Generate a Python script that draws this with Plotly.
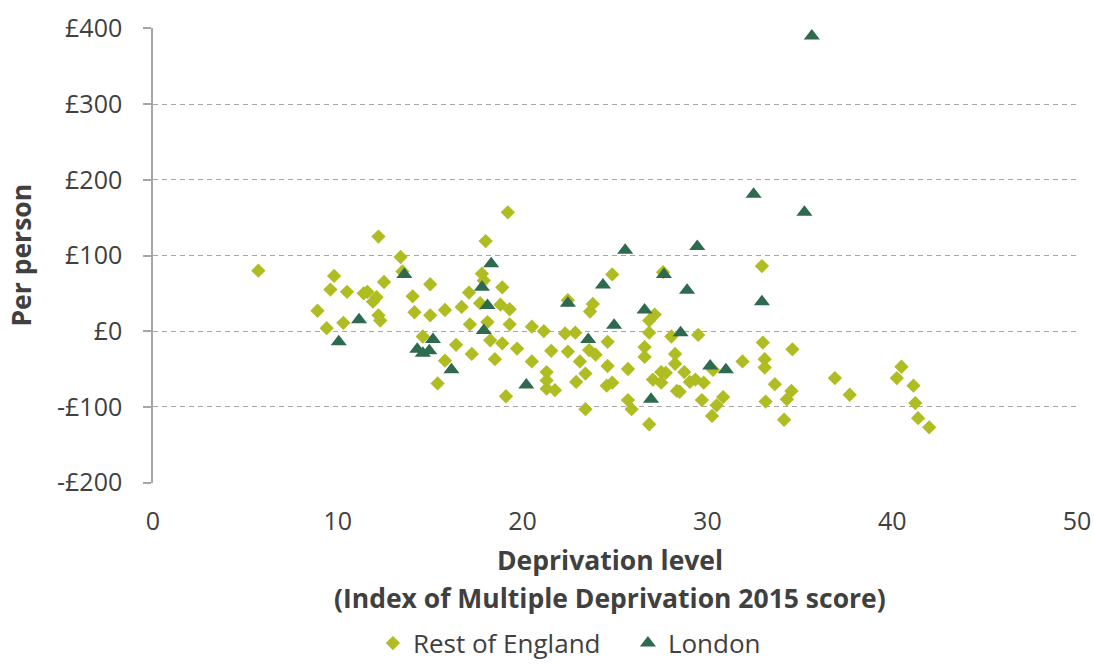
import plotly.graph_objects as go

# Deprivation score (IMD 2015) and change per person, by local authority
england_x = [5.7, 8.9, 9.4, 9.6, 9.8, 10.3, 10.5, 11.4, 11.6, 11.9, 12.1, 12.2, 12.2, 12.3, 12.5,
             13.4, 13.5, 14.05, 14.15, 14.6, 15.0, 15.0, 15.4, 15.8, 15.8, 16.4, 16.7, 17.1, 17.15,
             17.25, 17.7, 17.8, 17.9, 18.0, 18.1, 18.25, 18.5, 18.8, 18.9, 18.9, 19.1, 19.2, 19.3,
             19.3, 19.7, 20.5, 20.5, 21.15, 21.3, 21.3, 21.3, 21.55, 21.75, 22.3, 22.45, 22.45,
             22.85, 22.9, 23.1, 23.4, 23.4, 23.65, 23.8, 23.6, 23.95, 24.6, 24.6, 24.55, 24.85,
             24.85, 25.7, 25.7, 25.9, 26.6, 26.6, 26.85, 26.85, 27.15, 26.85, 27.05, 27.5, 27.75,
             27.5, 27.6, 28.05, 28.25, 28.25, 28.35, 28.5, 28.75, 29.05, 29.35, 29.5, 29.7, 29.8,
             30.25, 30.3, 30.5, 30.85, 31.9, 32.95, 33.0, 33.1, 33.1, 33.15, 33.65, 34.15, 34.3,
             34.55, 34.6, 36.9, 37.7, 40.25, 40.5, 41.15, 41.25, 41.4, 42.0]
england_y = [80, 27, 4, 55, 73, 11, 52, 50, 52, 39, 45, 125, 21, 14, 65,
             98, 79, 46, 25, -7, 62, 21, -69, 28, -39, -18, 32, 51, 9,
             -30, 37, 76, 67, 119, 12, -12, -37, 35, 58, -16, -86, 157, 29,
             9, -23, 6, -40, 0, -54, -65, -76, -26, -78, -3, 41, -27,
             -2, -67, -40, -56, -103, 26, 36, -25, -31, -14, -46, -72, -68,
             75, -50, -91, -103, -21, -34, -2, 14, 22, -123, -64, -54, -55,
             -68, 78, -7, -30, -43, -79, -80, -54, -67, -64, -5, -91, -68,
             -112, -51, -98, -87, -40, 86, -15, -37, -48, -93, -70, -117, -90,
             -79, -24, -62, -84, -62, -47, -72, -95, -115, -127]

london_x = [10.05, 11.15, 13.6, 14.3, 14.6, 14.95, 15.15, 16.15, 17.8, 17.9, 18.1, 18.3, 20.2,
            22.45, 23.55, 24.35, 24.95, 25.55, 26.6, 26.95, 27.65, 28.55, 28.9, 29.45, 30.15,
            31.0, 32.5, 32.95, 35.25, 35.65]
london_y = [-14, 15, 75, -24, -29, -26, -11, -51, 58, 1, 34, 89, -71,
            37, -11, 61, 8, 107, 28, -90, 75, -2, 54, 112, -46,
            -51, 181, 39, 157, 390]

x_ticks = [0, 10, 20, 30, 40, 50]
y_ticks = [-200, -100, 0, 100, 200, 300, 400]
y_tick_text = ["-£200", "-£100", "£0", "£100", "£200", "£300", "£400"]

LIME = "#AFBC22"
FOREST = "#2D6A4F"
GRID = "#A6A6A6"
TEXT = "#404040"
FONT = "Open Sans"

fig = go.Figure()
fig.add_trace(go.Scatter(
    x=england_x, y=england_y, mode="markers", name="Rest of England",
    marker=dict(symbol="diamond", size=11, color=LIME, line=dict(width=0)),
))
fig.add_trace(go.Scatter(
    x=london_x, y=london_y, mode="markers", name="London",
    marker=dict(symbol="triangle-up", size=14, color=FOREST, line=dict(width=0)),
))

# small padding on the value range keeps the outer dashed gridlines visible
y_range = [-200.6, 400.6]

fig.update_layout(
    width=1094, height=664,
    margin=dict(l=153, r=17, t=28, b=181, autoexpand=False),
    paper_bgcolor="white", plot_bgcolor="white",
    font=dict(family=FONT, color=TEXT, size=25),
    showlegend=True,
    legend=dict(
        orientation="h", x=0.238, xanchor="left", y=-0.352, yanchor="middle",
        font=dict(size=26, color=TEXT), itemclick=False,
        entrywidth=210, entrywidthmode="pixels",
    ),
    xaxis=dict(
        range=[0, 50], tickvals=x_ticks, showgrid=False, zeroline=False,
        showline=False, ticks="", ticklabelstandoff=21,
        tickfont=dict(size=25, color=TEXT),
    ),
    # axis line drawn through y = 0 with downward tick marks
    xaxis2=dict(
        overlaying="x", anchor="free", position=(0 - y_range[0]) / (y_range[1] - y_range[0]),
        range=[0, 50], tickvals=x_ticks[1:], showticklabels=False, showgrid=False,
        zeroline=False, showline=True, linecolor=GRID, linewidth=1.5,
        ticks="outside", ticklen=9, tickcolor=GRID, tickwidth=1.5,
    ),
    yaxis=dict(
        range=y_range, tickvals=y_ticks, ticktext=y_tick_text,
        showgrid=True, gridcolor=GRID, gridwidth=1, griddash="5px,4px",
        zeroline=False, showline=True, linecolor=GRID, linewidth=1.5,
        ticks="outside", ticklen=8, tickcolor=GRID, tickwidth=1.5,
        ticklabelstandoff=16, tickfont=dict(size=25, color=TEXT),
    ),
    annotations=[
        dict(text="<b>Per person</b>", xref="paper", yref="paper", x=-0.1439, y=0.5,
             xanchor="center", yanchor="middle", textangle=-90, showarrow=False,
             font=dict(size=26.5, color=TEXT)),
        dict(text="<b>Deprivation level</b>", xref="paper", yref="paper", x=0.4946,
             y=-0.1692, xanchor="center", yanchor="middle", showarrow=False,
             font=dict(size=26.5, color=TEXT)),
        dict(text="<b>(Index of Multiple Deprivation 2015 score)</b>", xref="paper",
             yref="paper", x=0.4946, y=-0.2527, xanchor="center", yanchor="middle",
             showarrow=False, font=dict(size=26.5, color=TEXT)),
    ],
)

fig.write_html("out.html")
